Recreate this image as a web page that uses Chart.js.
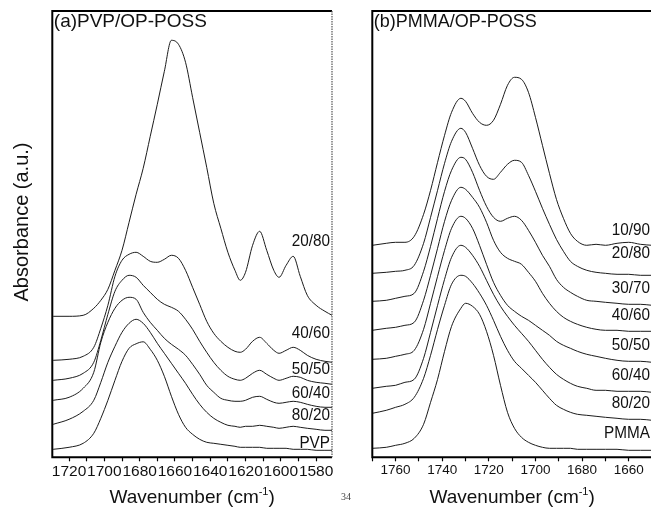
<!DOCTYPE html>
<html>
<head>
<meta charset="utf-8">
<script src="https://cdn.jsdelivr.net/npm/chart.js@4.4.0/dist/chart.umd.min.js"></script>
<style>
  html, body { margin: 0; padding: 0; background: #fff; overflow: hidden; }
  #wrap { position: relative; width: 651px; height: 512px; overflow: hidden; }
  #c1 { position: absolute; left: 0; top: 0; }
  #c2 { position: absolute; left: 340px; top: 0; }
  #page { position: absolute; left: 341px; top: 491px; font: 10px 'Liberation Serif', serif; color: #444; }
</style>
</head>
<body>
<div id="wrap">
  <canvas id="c1" width="340" height="512"></canvas>
  <canvas id="c2" width="320" height="512"></canvas>
  <div id="page">34</div>
</div>
<script>
// (a) PVP/OP-POSS  -- wavenumber grid (cm-1) and absorbance (a.u., stacked)
const pvpWavenumbers = [1729, 1720, 1712, 1706, 1702, 1698, 1694, 1690, 1686, 1682, 1678, 1674, 1670, 1666, 1662, 1658, 1654, 1650, 1646, 1642, 1638, 1634, 1630, 1626, 1623, 1620, 1616, 1612, 1608, 1604, 1601, 1597, 1593, 1589, 1585, 1580, 1575, 1571];
const pvp2080 = [1.41, 1.41, 1.42, 1.49, 1.57, 1.68, 1.87, 2.07, 2.35, 2.63, 2.89, 3.21, 3.53, 3.86, 4.17, 4.13, 3.95, 3.60, 3.25, 2.90, 2.54, 2.29, 2.05, 1.87, 1.77, 1.85, 2.12, 2.26, 2.07, 1.87, 1.80, 1.92, 2.01, 1.81, 1.62, 1.52, 1.46, 1.42];
const pvp4060 = [0.97, 0.98, 1.01, 1.10, 1.29, 1.52, 1.81, 1.97, 2.03, 2.05, 2.01, 1.96, 1.95, 1.98, 2.02, 1.99, 1.87, 1.70, 1.53, 1.36, 1.24, 1.16, 1.10, 1.06, 1.05, 1.08, 1.16, 1.20, 1.14, 1.07, 1.04, 1.07, 1.10, 1.07, 1.02, 0.98, 0.96, 0.95];
const pvp5050 = [0.77, 0.79, 0.84, 0.95, 1.17, 1.43, 1.66, 1.77, 1.82, 1.80, 1.72, 1.65, 1.58, 1.53, 1.50, 1.46, 1.38, 1.28, 1.16, 1.05, 0.95, 0.87, 0.81, 0.78, 0.77, 0.79, 0.84, 0.87, 0.83, 0.79, 0.77, 0.79, 0.81, 0.80, 0.77, 0.75, 0.74, 0.73];
const pvp6040 = [0.57, 0.60, 0.69, 0.85, 1.15, 1.35, 1.49, 1.57, 1.60, 1.58, 1.45, 1.35, 1.27, 1.19, 1.13, 1.08, 1.02, 0.93, 0.83, 0.72, 0.65, 0.59, 0.57, 0.56, 0.56, 0.57, 0.60, 0.61, 0.58, 0.55, 0.54, 0.55, 0.56, 0.55, 0.53, 0.51, 0.50, 0.50];
const pvp8020 = [0.33, 0.38, 0.46, 0.57, 0.75, 0.95, 1.11, 1.25, 1.34, 1.38, 1.34, 1.25, 1.14, 1.04, 0.94, 0.84, 0.74, 0.63, 0.53, 0.45, 0.39, 0.35, 0.32, 0.31, 0.30, 0.31, 0.31, 0.32, 0.31, 0.30, 0.29, 0.30, 0.31, 0.30, 0.29, 0.28, 0.27, 0.27];
const pvpPure = [0.08, 0.10, 0.14, 0.24, 0.39, 0.57, 0.77, 0.96, 1.09, 1.135, 1.155, 1.08, 0.97, 0.81, 0.61, 0.43, 0.30, 0.23, 0.18, 0.15, 0.14, 0.13, 0.12, 0.11, 0.10, 0.10, 0.10, 0.10, 0.09, 0.09, 0.09, 0.09, 0.08, 0.08, 0.08, 0.07, 0.07, 0.07];
const pvpNames = ['20/80', '40/60', '50/50', '60/40', '80/20', 'PVP'];
const pvpLabelLevels = [2.16, 1.24, 0.88, 0.64, 0.42, 0.14];

// (b) PMMA/OP-POSS
const pmmaWavenumbers = [1770, 1764, 1760, 1756, 1752, 1748, 1745, 1742, 1739, 1736, 1732, 1730, 1727, 1724, 1721, 1718, 1715, 1712, 1709, 1706, 1703, 1700, 1697, 1694, 1691, 1688, 1685, 1682, 1678, 1674, 1670, 1665, 1660, 1655, 1650];
const pmma1090 = [2.12, 2.14, 2.15, 2.15, 2.21, 2.43, 2.67, 2.95, 3.22, 3.45, 3.59, 3.56, 3.44, 3.35, 3.32, 3.37, 3.53, 3.72, 3.80, 3.78, 3.65, 3.40, 3.12, 2.84, 2.58, 2.39, 2.24, 2.16, 2.12, 2.13, 2.12, 2.14, 2.15, 2.13, 2.12];
const pmma2080 = [1.84, 1.85, 1.86, 1.87, 1.92, 2.14, 2.40, 2.67, 2.94, 3.16, 3.29, 3.25, 3.09, 2.92, 2.81, 2.78, 2.85, 2.93, 2.97, 2.95, 2.82, 2.66, 2.49, 2.33, 2.18, 2.06, 1.96, 1.91, 1.87, 1.85, 1.84, 1.83, 1.83, 1.82, 1.82];
const pmma3070 = [1.56, 1.57, 1.59, 1.61, 1.64, 1.86, 2.11, 2.39, 2.66, 2.87, 3.00, 2.98, 2.85, 2.67, 2.51, 2.40, 2.36, 2.39, 2.41, 2.37, 2.27, 2.15, 2.02, 1.91, 1.78, 1.70, 1.65, 1.61, 1.57, 1.56, 1.55, 1.54, 1.53, 1.53, 1.52];
const pmma4060 = [1.27, 1.29, 1.30, 1.32, 1.35, 1.57, 1.82, 2.09, 2.36, 2.57, 2.70, 2.68, 2.60, 2.50, 2.35, 2.17, 2.05, 1.99, 1.96, 1.93, 1.85, 1.76, 1.64, 1.54, 1.46, 1.40, 1.36, 1.33, 1.30, 1.28, 1.27, 1.27, 1.26, 1.26, 1.26];
const pmma5050 = [0.98, 0.99, 1.01, 1.03, 1.07, 1.28, 1.54, 1.81, 2.07, 2.29, 2.41, 2.39, 2.29, 2.12, 1.93, 1.75, 1.62, 1.52, 1.46, 1.41, 1.37, 1.32, 1.27, 1.22, 1.16, 1.12, 1.09, 1.06, 1.03, 1.01, 0.99, 0.97, 0.96, 0.96, 0.95];
const pmma6040 = [0.69, 0.71, 0.72, 0.75, 0.78, 0.99, 1.25, 1.52, 1.78, 2.00, 2.12, 2.10, 2.02, 1.91, 1.77, 1.63, 1.51, 1.41, 1.32, 1.24, 1.16, 1.07, 0.98, 0.90, 0.83, 0.78, 0.74, 0.71, 0.69, 0.67, 0.67, 0.66, 0.66, 0.66, 0.65];
const pmma8020 = [0.44, 0.47, 0.50, 0.53, 0.60, 0.79, 1.02, 1.28, 1.52, 1.73, 1.82, 1.81, 1.74, 1.64, 1.52, 1.37, 1.21, 1.07, 0.96, 0.89, 0.82, 0.75, 0.67, 0.59, 0.52, 0.48, 0.45, 0.43, 0.42, 0.41, 0.40, 0.39, 0.38, 0.38, 0.37];
const pmmaPure = [0.09, 0.10, 0.12, 0.14, 0.19, 0.33, 0.55, 0.78, 1.06, 1.31, 1.49, 1.54, 1.51, 1.43, 1.26, 1.02, 0.72, 0.45, 0.29, 0.20, 0.15, 0.12, 0.10, 0.09, 0.09, 0.09, 0.09, 0.08, 0.08, 0.08, 0.08, 0.08, 0.07, 0.07, 0.07];
const pmmaNames = ['10/90', '20/80', '30/70', '40/60', '50/50', '60/40', '80/20', 'PMMA'];
const pmmaLabelLevels = [2.27, 2.04, 1.69, 1.42, 1.12, 0.82, 0.54, 0.24];

const FONT = '"Liberation Sans", Arial, sans-serif';
Chart.defaults.font.family = FONT;
Chart.defaults.color = '#111';

// frame, panel title, curve labels and axis titles
const decor = {
  id: 'decor',
  afterDraw(chart, args, o) {
    const { ctx, chartArea: a } = chart;
    const y = chart.scales.y;
    ctx.save();
    ctx.strokeStyle = '#000';
    ctx.lineWidth = 2;
    ctx.beginPath();
    ctx.moveTo(a.right, a.top);
    ctx.lineTo(a.left, a.top);
    ctx.lineTo(a.left, a.bottom);
    ctx.lineTo(a.right, a.bottom);
    ctx.stroke();
    ctx.lineWidth = 1.2;
    ctx.strokeStyle = '#555';
    ctx.setLineDash([1.5, 1]);
    ctx.beginPath();
    ctx.moveTo(a.right, a.top);
    ctx.lineTo(a.right, a.bottom);
    ctx.stroke();
    ctx.setLineDash([]);

    ctx.fillStyle = '#111';
    ctx.textAlign = 'left';
    ctx.textBaseline = 'alphabetic';
    ctx.font = o.titleSize + 'px ' + FONT;
    ctx.fillText(o.title, a.left + 1.5, a.top + 15.5);

    ctx.font = '17px ' + FONT;
    ctx.textAlign = 'right';
    ctx.textBaseline = 'middle';
    o.names.forEach((n, i) => {
      ctx.save();
      ctx.translate(a.right - 2, y.getPixelForValue(o.levels[i]));
      ctx.scale(0.9, 1);
      ctx.fillText(n, 0, 0);
      ctx.restore();
    });

    // x title: Wavenumber (cm^-1)
    ctx.textAlign = 'left';
    ctx.textBaseline = 'alphabetic';
    const big = '19px ' + FONT, small = '11px ' + FONT;
    ctx.font = big;
    const t1 = 'Wavenumber (cm', t3 = ')';
    const w1 = ctx.measureText(t1).width, w3 = ctx.measureText(t3).width;
    ctx.font = small;
    const w2 = ctx.measureText('-1').width;
    let x0 = (a.left + a.right) / 2 - (w1 + w2 + w3) / 2;
    const by = a.bottom + 45.7;
    ctx.font = big;
    ctx.fillText(t1, x0, by);
    ctx.font = small;
    ctx.fillText('-1', x0 + w1, by - 8);
    ctx.font = big;
    ctx.fillText(t3, x0 + w1 + w2, by);

    if (o.yTitle) {
      ctx.save();
      ctx.translate(a.left - 24.3, a.top + 211);
      ctx.rotate(-Math.PI / 2);
      ctx.textAlign = 'center';
      ctx.font = '20px ' + FONT;
      ctx.fillText(o.yTitle, 0, 0);
      ctx.restore();
    }
    ctx.restore();
  }
};

function buildDatasets(xs, series) {
  return series.map(vals => ({
    data: xs.map((x, i) => ({ x: x, y: vals[i] })),
    borderColor: '#1c1c1c',
    borderWidth: 1,
    pointRadius: 0,
    fill: false,
    cubicInterpolationMode: 'monotone'
  }));
}

// tick every 10 cm-1 inside the range, label every 20
function tensTicks(scale) {
  const t = [];
  for (let v = Math.ceil(scale.min / 10) * 10; v <= scale.max; v += 10) t.push({ value: v });
  scale.ticks = t;
}

function panel(id, xs, series, xmin, xmax, tickSize, pad, deco) {
  return new Chart(document.getElementById(id), {
    type: 'line',
    data: { datasets: buildDatasets(xs, series) },
    options: {
      responsive: false,
      animation: false,
      layout: { padding: pad },
      plugins: { legend: { display: false }, tooltip: { enabled: false }, decor: deco },
      scales: {
        x: {
          type: 'linear',
          reverse: true,
          min: xmin,
          max: xmax,
          afterBuildTicks: tensTicks,
          border: { display: false },
          grid: { drawOnChartArea: false, drawTicks: true, tickLength: 4, tickColor: '#000', tickWidth: 1.2 },
          ticks: {
            autoSkip: false,
            maxRotation: 0,
            padding: 1,
            color: '#111',
            font: { size: tickSize },
            callback: v => (v % 20 === 0 ? String(v) : '')
          }
        },
        y: { display: false, min: 0, max: 4.463 }
      }
    },
    plugins: [decor]
  });
}

panel('c1', pvpWavenumbers, [pvp2080, pvp4060, pvp5050, pvp6040, pvp8020, pvpPure],
  1571, 1729.5, 15.5, { left: 52.3, right: 8, top: 11, bottom: 30.1 },
  { title: '(a)PVP/OP-POSS', titleSize: 19, names: pvpNames, levels: pvpLabelLevels, yTitle: 'Absorbance (a.u.)' });

panel('c2', pmmaWavenumbers, [pmma1090, pmma2080, pmma3070, pmma4060, pmma5050, pmma6040, pmma8020, pmmaPure],
  1650, 1770, 13.5, { left: 32.3, right: 8, top: 11, bottom: 32.5 },
  { title: '(b)PMMA/OP-POSS', titleSize: 18, names: pmmaNames, levels: pmmaLabelLevels });
</script>
</body>
</html>
